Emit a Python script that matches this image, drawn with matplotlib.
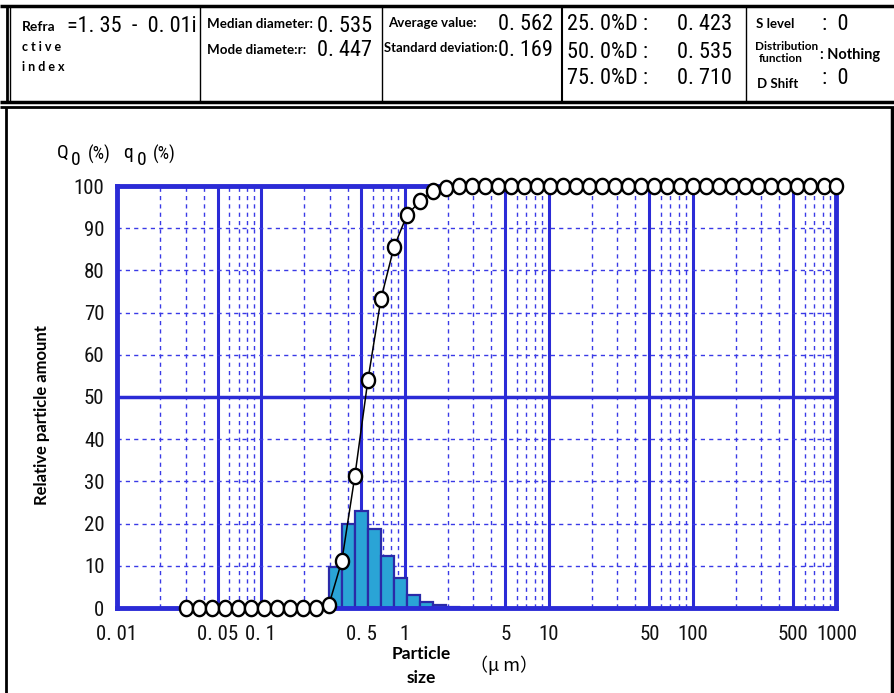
import numpy as np
import matplotlib
matplotlib.use("Agg")
import matplotlib.pyplot as plt
from matplotlib import font_manager as fm
from matplotlib.lines import Line2D
from matplotlib.path import Path
from matplotlib.ticker import FixedLocator, NullLocator

# ---------------- data ----------------
diameters = [0.0300, 0.0369, 0.0455, 0.0560, 0.0690, 0.0850, 0.1047, 0.1289, 0.1588, 0.1956,
             0.2408, 0.2966, 0.3653, 0.4498, 0.5540, 0.6823, 0.8403, 1.035, 1.275, 1.570,
             1.933, 2.381, 2.932, 3.612, 4.448, 5.478, 6.746, 8.309, 10.23, 12.60,
             15.52, 19.12, 23.54, 29.00, 35.71, 43.98, 54.17, 66.70, 82.15, 101.2,
             124.6, 153.5, 189.0, 232.8, 286.7, 353.1, 434.9, 535.5, 659.6, 812.3, 1000.0]
cumulative = [0, 0, 0, 0, 0, 0, 0, 0, 0, 0,
              0, 0.7, 11.2, 31.3, 54.0, 73.2, 85.5, 93.1, 96.4, 98.8,
              99.5, 99.9, 100, 100, 100, 100, 100, 100, 100, 100,
              100, 100, 100, 100, 100, 100, 100, 100, 100, 100,
              100, 100, 100, 100, 100, 100, 100, 100, 100, 100, 100]
freq_first_bin = 11
frequency = [9.8, 20.0, 22.9, 18.8, 12.3, 7.0, 3.1, 1.5, 0.7, 0.3, 0.1]

y_ticks = [0, 10, 20, 30, 40, 50, 60, 70, 80, 90, 100]
x_ticks = [0.01, 0.05, 0.1, 0.5, 1, 5, 10, 50, 100, 500, 1000]
x_tick_labels = ["0. 01", "0. 05", "0. 1", "0. 5", "1", "5", "10", "50", "100", "500", "1000"]

header_labels = [
    ("Median diameter:", "0. 535"),
    ("Mode diamete:r:", "0. 447"),
    ("Average value:", "0. 562"),
    ("Standard deviation:", "0. 169"),
]
percentile_rows = [("25. 0%D :", "0. 423"), ("50. 0%D :", "0. 535"), ("75. 0%D :", "0. 710")]

# ---------------- fonts ----------------
names = {f.name for f in fm.fontManager.ttflist}
NARROW = next((n for n in ["Liberation Sans Narrow", "Roboto Condensed"] if n in names), "DejaVu Sans")
BOLD = "Lato" if "Lato" in names else "DejaVu Sans"
CJK = ["Noto Sans CJK JP", "DejaVu Sans"]

W, H = 895, 693
fig = plt.figure(figsize=(W / 100, H / 100), dpi=100)
fig.patch.set_facecolor("white")

def fx(x):
    return x / W

def fy(y):
    return 1 - y / H

def line(x0, y0, x1, y1, lw, color="black"):
    fig.add_artist(Line2D([fx(x0), fx(x1)], [fy(y0), fy(y1)], transform=fig.transFigure,
                          lw=lw, color=color, solid_capstyle="butt"))

def txt(x, y, s, size, family, weight="normal", ha="left", va="center", **kw):
    fig.text(fx(x), fy(y), s, fontsize=size, family=family, weight=weight, ha=ha, va=va, **kw)

# ---------------- header table ----------------
line(0, 6, W, 6, 2.5)
line(0, 102, W, 102, 2.5)
line(0, 107, W, 107, 2.0)
line(7, 6, 7, 102, 2.0)
line(10, 6, 10, 102, 1.0)
for xd in [200, 382, 746]:
    line(xd, 6, xd, 102, 1.0)
line(562, 6, 562, 102, 1.5)
line(6, 107, 6, H, 2.0)
line(892, 107, 892, H, 2.5)

txt(22, 27, "Refra", 10, BOLD, "bold")
txt(22, 47, "c t i v e", 9, BOLD, "bold")
txt(22, 67, "i n d e x", 9, BOLD, "bold")
txt(67, 26, "=1. 35  -  0. 01i", 16, NARROW)

txt(207, 24, header_labels[0][0], 9.6, BOLD, "bold")
txt(317, 26, header_labels[0][1], 16, NARROW)
txt(207, 50, header_labels[1][0], 9.6, BOLD, "bold")
txt(317, 51, header_labels[1][1], 16, NARROW)
txt(388, 23, header_labels[2][0], 9.6, BOLD, "bold")
txt(498, 24, header_labels[2][1], 16, NARROW)
txt(384, 48, header_labels[3][0], 9.4, BOLD, "bold")
txt(498, 51, header_labels[3][1], 16, NARROW)

for (lab, val), yy in zip(percentile_rows, [25, 52, 79]):
    txt(567, yy, lab, 16, NARROW)
    txt(677, yy, val, 16, NARROW)

txt(756, 24, "S level", 9.5, BOLD, "bold")
txt(822, 25, ":  0", 16, NARROW)
txt(755, 47, "Distribution", 8.5, BOLD, "bold")
txt(759, 59, "function", 8.5, BOLD, "bold")
txt(820, 55, ": Nothing", 10.5, BOLD, "bold")
txt(757, 84, "D Shift", 9.5, BOLD, "bold")
txt(822, 79, ":  0", 16, NARROW)

# ---------------- chart ----------------
BLUE = "#2b2bd6"
GRID = "#3a3ae6"
BAR = "#2aa4d6"
BAR_EDGE = "#2a2aa8"

ax = fig.add_axes([fx(117), 1 - 608 / H, (836.5 - 117) / W, (608 - 186) / H])
ax.set_xscale("log")
ax.set_xlim(0.01, 1000)
ax.set_ylim(0, 100)

for dec in [0.01, 0.1, 1, 10, 100]:
    for m in [2, 3, 4, 6, 7, 8, 9]:
        ax.axvline(dec * m, color=GRID, lw=1.0, ls=(0, (3, 3)), zorder=1)
    ax.axvline(dec * 5, color=BLUE, lw=2.2, zorder=1)
    if dec > 0.01:
        ax.axvline(dec, color=BLUE, lw=2.2, zorder=1)
for yv in [10, 20, 30, 40, 60, 70, 80, 90]:
    ax.axhline(yv, color=GRID, lw=1.0, ls=(0, (3, 3)), zorder=1)
ax.axhline(50, color=BLUE, lw=2.5, zorder=1)

lefts = diameters[freq_first_bin:freq_first_bin + len(frequency)]
rights = diameters[freq_first_bin + 1:freq_first_bin + 1 + len(frequency)]
widths = [r - l for l, r in zip(lefts, rights)]
ax.bar(lefts, frequency, width=widths, align="edge", color=BAR, edgecolor=BAR_EDGE,
       linewidth=1.6, zorder=2)

# slightly tall oval marker
t = np.linspace(0, 2 * np.pi, 41)
oval = Path(np.column_stack([0.86 * np.cos(t), np.sin(t)]), closed=True)
ax.plot(diameters, cumulative, color="black", lw=1.1, marker=oval, markersize=11,
        markerfacecolor="white", markeredgecolor="black", markeredgewidth=1.7,
        zorder=5, clip_on=False)

for s in ax.spines.values():
    s.set_color(BLUE)
    s.set_linewidth(3.5)
    s.set_zorder(4)

ax.xaxis.set_major_locator(FixedLocator(x_ticks))
ax.xaxis.set_minor_locator(NullLocator())
ax.set_xticklabels(x_tick_labels)
ax.set_yticks(y_ticks)
ax.tick_params(axis="both", length=0)
ax.tick_params(axis="y", pad=9)
ax.tick_params(axis="x", pad=12)
for lab in ax.get_xticklabels() + ax.get_yticklabels():
    lab.set_fontfamily(NARROW)
    lab.set_fontsize(15)
    lab.set_color("#111111")

txt(57, 153, "Q", 14, NARROW)
txt(71, 160, "0", 14, NARROW)
txt(88, 154, "(%)", 13, NARROW)
txt(123, 153, "q", 14, NARROW)
txt(137, 160, "0", 14, NARROW)
txt(153, 154, "(%)", 13, NARROW)

txt(42, 415, "Relative particle amount", 12, BOLD, "bold", ha="center", rotation=90)
txt(421, 666, "Particle\nsize", 12.5, BOLD, "bold", ha="center", linespacing=1.6)
txt(504, 665, "（μ m）", 13, CJK, ha="center")

fig.savefig("out.png", dpi=100, facecolor="white")
